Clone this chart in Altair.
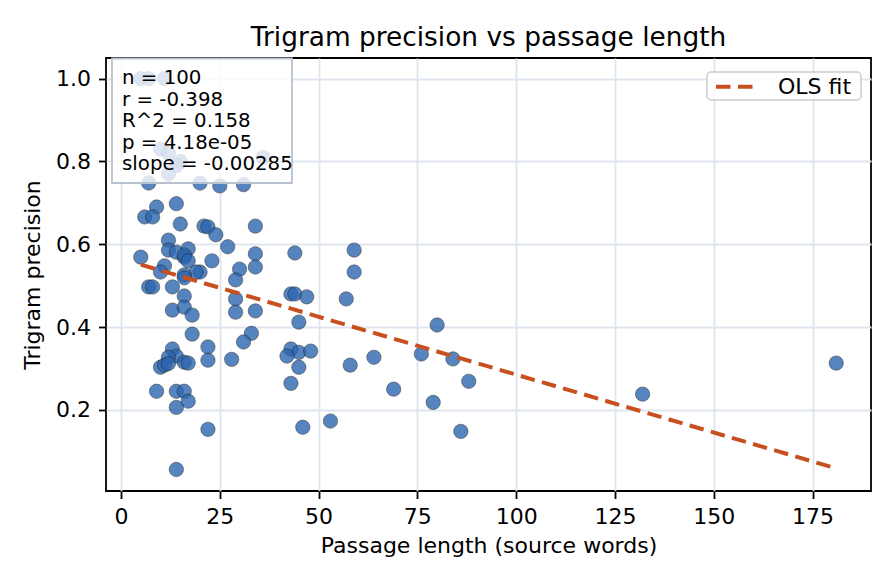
import pandas as pd
import altair as alt

FONT = "DejaVu Sans"
POINT_FILL = "#2c66b0"
POINT_EDGE = "#1c1c1c"
FIT_COLOR = "#c8501e"
GRID_COLOR = "#dfe5ed"

W, H = 765, 433

# passage length (source words) and trigram precision
passage_len = [
    5, 7, 11, 10, 12, 15, 14, 12, 36, 7,
    20, 25, 31, 9, 14, 6, 8, 15, 21, 22,
    24, 34, 12, 27, 5, 12, 14, 17, 16, 16,
    17, 23, 34, 34, 30, 11, 10, 20, 19, 16,
    16, 29, 7, 8, 13, 16, 29, 13, 16, 18,
    29, 34, 18, 22, 33, 31, 13, 14, 12, 10,
    11, 12, 16, 17, 22, 28, 9, 14, 16, 17,
    14, 22, 14, 44, 59, 59, 43, 44, 47, 57,
    45, 80, 43, 45, 48, 42, 45, 58, 64, 76,
    84, 43, 69, 88, 79, 46, 53, 86, 132, 181,
]
trigram_prec = [
    1.000, 1.000, 1.000, 0.830, 0.820, 0.800, 0.790, 0.770, 0.810, 0.748,
    0.748, 0.741, 0.744, 0.690, 0.698, 0.666, 0.666, 0.649, 0.644, 0.642,
    0.623, 0.644, 0.610, 0.594, 0.569, 0.586, 0.581, 0.589, 0.569, 0.574,
    0.560, 0.560, 0.577, 0.545, 0.540, 0.548, 0.533, 0.533, 0.533, 0.526,
    0.519, 0.514, 0.497, 0.497, 0.497, 0.475, 0.468, 0.441, 0.448, 0.429,
    0.436, 0.439, 0.383, 0.352, 0.385, 0.364, 0.347, 0.330, 0.327, 0.303,
    0.308, 0.312, 0.315, 0.313, 0.320, 0.322, 0.245, 0.245, 0.245, 0.221,
    0.206, 0.153, 0.056, 0.579, 0.586, 0.533, 0.480, 0.480, 0.473, 0.468,
    0.412, 0.405, 0.347, 0.339, 0.342, 0.330, 0.303, 0.308, 0.327, 0.335,
    0.323, 0.264, 0.250, 0.269, 0.218, 0.158, 0.173, 0.148, 0.238, 0.313,
]

stats_lines = ["n = 100", "r = -0.398", "R^2 = 0.158", "p = 4.18e-05", "slope = -0.00285"]
legend_label = "OLS fit"
x_ticks = [0, 25, 50, 75, 100, 125, 150, 175]
y_ticks = [0.2, 0.4, 0.6, 0.8, 1.0]

df = pd.DataFrame({"length": passage_len, "precision": trigram_prec})

x_scale = alt.Scale(domain=[-3.8, 189.8], nice=False, zero=False)
y_scale = alt.Scale(domain=[0.004, 1.05], nice=False, zero=False)

points = alt.Chart(df).mark_circle(
    size=205, fill=POINT_FILL, stroke=POINT_EDGE, strokeWidth=0.6, opacity=0.8
).encode(
    x=alt.X("length:Q", scale=x_scale,
            axis=alt.Axis(values=x_ticks, labelPadding=8, titlePadding=8),
            title="Passage length (source words)"),
    y=alt.Y("precision:Q", scale=y_scale,
            axis=alt.Axis(values=y_ticks, format=".1f", labelPadding=8, titlePadding=11),
            title="Trigram precision"),
)

fit = alt.Chart(df).transform_regression("length", "precision").mark_line(
    color=FIT_COLOR, strokeWidth=4, strokeDash=[14.5, 7.5]
).encode(x="length:Q", y="precision:Q")

# stats box, top left
note = pd.DataFrame({"text": ["\n".join(stats_lines)]})
note_box = alt.Chart(note).mark_rect(
    fill="white", fillOpacity=0.8, stroke="#b8c2cf", strokeWidth=1.8
).encode(x=alt.value(6), x2=alt.value(186), y=alt.value(0.5), y2=alt.value(125))
note_text = alt.Chart(note).mark_text(
    align="left", baseline="alphabetic", font=FONT, fontSize=19.8,
    lineHeight=21.5, lineBreak="\n", color="black"
).encode(x=alt.value(16), y=alt.value(26.3), text="text:N")

# legend, top right
leg = pd.DataFrame({"label": [legend_label]})
leg_box = alt.Chart(leg).mark_rect(
    fill="white", fillOpacity=0.8, stroke="#cccccc", strokeWidth=1.5, cornerRadius=4
).encode(x=alt.value(601), x2=alt.value(755), y=alt.value(14), y2=alt.value(42))
leg_line = alt.Chart(leg).mark_rule(
    color=FIT_COLOR, strokeWidth=4, strokeDash=[14.5, 7.5]
).encode(x=alt.value(610), x2=alt.value(647), y=alt.value(28.7))
leg_text = alt.Chart(leg).mark_text(
    align="left", baseline="middle", font=FONT, fontSize=22, color="black"
).encode(x=alt.value(672), y=alt.value(28.7), text="label:N")

chart = alt.layer(
    points, fit, note_box, note_text, leg_box, leg_line, leg_text
).properties(
    width=W, height=H,
    autosize=alt.AutoSizeParams(type="none"),
    padding={"left": 98, "top": 50, "right": 17, "bottom": 85},
    title=alt.Title("Trigram precision vs passage length", font=FONT, fontSize=26.4,
                    fontWeight="normal", color="black", offset=6,
                    frame="group", anchor="middle"),
).configure_view(
    stroke="black", strokeWidth=1.8
).configure_axis(
    domain=False, grid=True, gridColor=GRID_COLOR, gridWidth=1.8,
    tickColor="black", tickWidth=1.8, tickSize=7.5,
    labelFont=FONT, labelFontSize=22, labelColor="black",
    titleFont=FONT, titleFontSize=22, titleFontWeight="normal", titleColor="black",
)

chart.save("out.html", embed_options={"renderer": "svg", "actions": False})
